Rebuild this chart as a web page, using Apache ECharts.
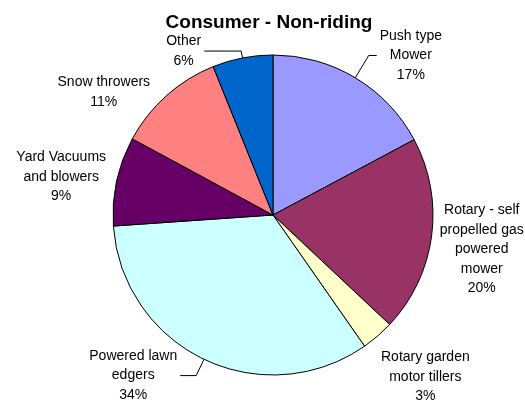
<!DOCTYPE html>
<html>
<head>
<meta charset="utf-8">
<script src="https://cdn.jsdelivr.net/npm/echarts@6/dist/echarts.min.js"></script>
<style>
  html, body { margin: 0; padding: 0; background: #fff; }
  #main { width: 525px; height: 403px; }
</style>
</head>
<body>
<div id="main"></div>
<script>
// slices clockwise from 12 o'clock
var categories = [
  'Push type\nMower',
  'Rotary - self\npropelled gas\npowered\nmower',
  'Rotary garden\nmotor tillers',
  'Powered lawn\nedgers',
  'Yard Vacuums\nand blowers',
  'Snow throwers',
  'Other'
];
// share of units, %
var shares = [17.2, 19.8, 3.3, 33.6, 9.0, 11.0, 6.1];
var colors = ['#9999FF', '#993366', '#FFFFCC', '#CCFFFF', '#660066', '#FF8080', '#0066CC'];

// leader lines: Excel only draws them for the labels it pushed away
var leader = [
  { show: true,  length: 26,  length2: 8 },
  { show: false, length: 102, length2: -96 },
  { show: false, length: 54,  length2: -35 },
  { show: true,  length: 18,  length2: 16 },
  { show: false, length: 19,  length2: -11 },
  { show: false, length: 5,   length2: 10 },
  { show: true,  length: 7,   length2: 37 }
];

var pieData = categories.map(function (name, i) {
  return {
    name: name,
    value: shares[i],
    itemStyle: { color: colors[i] },
    labelLine: leader[i]
  };
});

var chart = echarts.init(document.getElementById('main'));
chart.setOption({
  animation: false,
  backgroundColor: '#fff',
  title: {
    text: 'Consumer - Non-riding',
    left: 264,
    top: 8,
    textAlign: 'center',
    textStyle: {
      fontFamily: 'Liberation Sans, Arial, sans-serif',
      fontSize: 19,
      fontWeight: 'bold',
      color: '#000'
    }
  },
  series: [
    {
      type: 'pie',
      center: [273, 215],
      radius: 160,
      startAngle: 90,
      clockwise: true,
      percentPrecision: 0,
      avoidLabelOverlap: false,
      emphasis: { disabled: true },
      itemStyle: { borderColor: '#000', borderWidth: 1 },
      label: {
        position: 'outside',
        distanceToLabelLine: 3,
        formatter: function (p) {
          return '{t|' + p.name + '\n' + p.percent + '%}';
        },
        rich: {
          t: {
            align: 'center',
            fontFamily: 'Liberation Sans, Arial, sans-serif',
            fontSize: 14,
            lineHeight: 19.5,
            color: '#000'
          }
        }
      },
      labelLine: {
        lineStyle: { color: '#000', width: 1 }
      },
      data: pieData
    }
  ]
});
</script>
</body>
</html>
